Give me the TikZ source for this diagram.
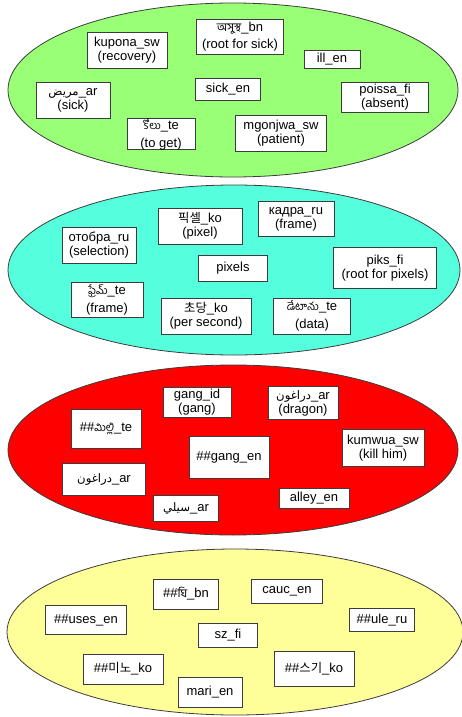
\documentclass[tikz,border=0pt]{standalone}
\usepackage{fontspec}
\setmainfont{Liberation Sans}
\newfontfamily\bnfont[Script=Bengali, Scale=0.9]{Hind Siliguri}
\newfontfamily\tefont[Script=Telugu, Scale=0.85]{Hind Guntur}
\newfontfamily\kofont[Scale=0.95]{Noto Sans CJK KR}
\newfontfamily\arfont[Script=Arabic, Scale=0.9]{DejaVu Sans}
\TeXXeTstate=1
\usetikzlibrary{positioning}

\definecolor{sickgreen}{RGB}{153,255,119}
\definecolor{pixcyan}{RGB}{85,255,221}
\definecolor{gangred}{RGB}{255,0,0}
\definecolor{miscyellow}{RGB}{255,255,153}
\definecolor{rimgray}{RGB}{60,60,60}

\newcommand{\ar}[1]{{\arfont\beginR #1\endR}}

\tikzset{
	wordbox/.style={draw=rimgray, fill=white, line width=0.8pt, align=center, inner xsep=4pt, inner ysep=2pt,
		font=\fontsize{13}{14}\selectfont},
	cluster/.style={draw=rimgray, line width=0.8pt}
}

\begin{document}
\begin{tikzpicture}[x=1pt, y=-1pt]
						\useasboundingbox (0,0) rectangle (462,717);
						% clusters
						\draw[cluster, fill=sickgreen] (233,90) ellipse [x radius=225pt, y radius=87pt];
						\draw[cluster, fill=pixcyan] (234,270) ellipse [x radius=226pt, y radius=85pt];
						\draw[cluster, fill=gangred] (233,450) ellipse [x radius=225pt, y radius=85pt];
						\draw[cluster, fill=miscyellow] (235,632) ellipse [x radius=228pt, y radius=83pt];
						% sick
						\node[wordbox, minimum width=80pt, minimum height=36pt] (kupona) at (127,50) {kupona\_sw\\(recovery)};
						\node[wordbox, minimum width=87pt, minimum height=35pt, inner ysep=0pt] (asustha) at (240,37) {{\bnfont অসুস্থ}\_bn\\[3pt](root for sick)};
						\node[wordbox, minimum width=56pt, minimum height=18pt] (ill) at (332,59) {ill\_en};
						\node[wordbox, minimum width=74pt, minimum height=36pt] (marid) at (73,100) {\ar{مريض}\_ar\\(sick)};
						\node[wordbox, minimum width=65pt, minimum height=22pt] (sick) at (228,89) {sick\_en};
						\node[wordbox, minimum width=87pt, minimum height=29pt] (poissa) at (385,97) {poissa\_fi\\(absent)};
						\node[wordbox, minimum width=68pt, minimum height=31pt, inner ysep=0pt] (kolu) at (161,134) {{\tefont కోలు}\_te\\[4pt](to get)};
						\node[wordbox, minimum width=91pt, minimum height=36pt] (mgonjwa) at (281,133) {mgonjwa\_sw\\(patient)};
						% pixels
						\node[wordbox, minimum width=84pt, minimum height=36pt] (piksel) at (200,226) {{\kofont 픽셀}\_ko\\(pixel)};
						\node[wordbox, minimum width=76pt, minimum height=35pt] (kadra) at (296,219) {кадра\_ru\\(frame)};
						\node[wordbox, minimum width=74pt, minimum height=36pt] (otobra) at (99,245) {отобра\_ru\\(selection)};
						\node[wordbox, minimum width=69pt, minimum height=26pt] (pixels) at (233,268) {pixels};
						\node[wordbox, minimum width=103pt, minimum height=41pt] (piks) at (385,268) {piks\_fi\\(root for pixels)};
						\node[wordbox, minimum width=72pt, minimum height=35pt, inner ysep=0pt] (frame) at (107,300) {{\tefont ఫ్రేమ్}\_te\\[4pt](frame)};
						\node[wordbox, minimum width=90pt, minimum height=36pt] (chodang) at (206,316) {{\kofont 초당}\_ko\\(per second)};
						\node[wordbox, minimum width=77pt, minimum height=36pt, inner ysep=0pt] (detanu) at (312,316) {{\tefont డేటాను}\_te\\[4pt](data)};
						% gang
						\node[wordbox, minimum width=68pt, minimum height=30pt] (gangid) at (197,402) {gang\_id\\(gang)};
						\node[wordbox, minimum width=70pt, minimum height=33pt] (dragon) at (303,403) {\ar{دراغون}\_ar\\(dragon)};
						\node[wordbox, minimum width=70pt, minimum height=39pt] (milli) at (106,429) {\#\#{\tefont మిల్లి}\_te};
						\node[wordbox, minimum width=80pt, minimum height=42pt] (gang) at (229,457) {\#\#gang\_en};
						\node[wordbox, minimum width=82pt, minimum height=37pt] (kumwua) at (383,448) {kumwua\_sw\\(kill him)};
						\node[wordbox, minimum width=83pt, minimum height=32pt] (daragun) at (104,479) {\ar{دراغون}\_ar};
						\node[wordbox, minimum width=70pt, minimum height=20pt] (alley) at (314,498) {alley\_en};
						\node[wordbox, minimum width=65pt, minimum height=26pt] (sili) at (186,508) {\ar{سيلي}\_ar};
						% subwords
						\node[wordbox, minimum width=65pt, minimum height=30pt] (ghi) at (186,594) {\#\#{\bnfont ঘি}\_bn};
						\node[wordbox, minimum width=71pt, minimum height=24pt] (cauc) at (287,591) {cauc\_en};
						\node[wordbox, minimum width=81pt, minimum height=29pt] (uses) at (86,620) {\#\#uses\_en};
						\node[wordbox, minimum width=65pt, minimum height=23pt] (ule) at (382,620) {\#\#ule\_ru};
						\node[wordbox, minimum width=59pt, minimum height=24pt] (sz) at (228,635) {sz\_fi};
						\node[wordbox, minimum width=80pt, minimum height=30pt] (mino) at (123,669) {\#\#{\kofont 미노}\_ko};
						\node[wordbox, minimum width=80pt, minimum height=35pt] (seugi) at (314,669) {\#\#{\kofont 스기}\_ko};
						\node[wordbox, minimum width=64pt, minimum height=30pt] (mari) at (210,692) {mari\_en};
					\end{tikzpicture}
\end{document}
